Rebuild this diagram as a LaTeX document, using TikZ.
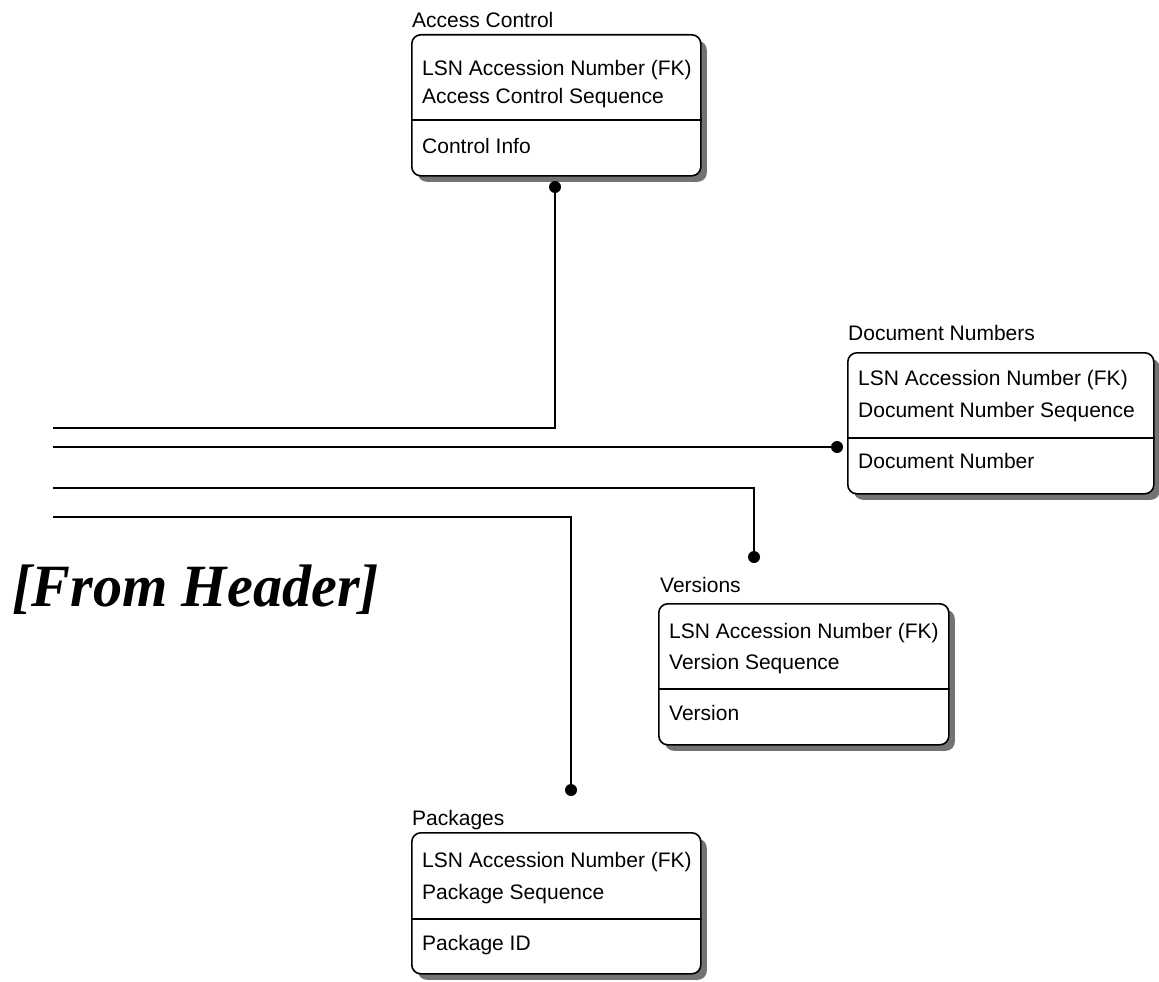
\documentclass[tikz,border=0pt]{standalone}
\usepackage{fontspec}
\newfontfamily\erfont{Liberation Sans}
\newfontfamily\hdrfont{Liberation Serif}
\usetikzlibrary{shadows}
\begin{document}
\begin{tikzpicture}[x=1pt,y=-1pt,
  entity/.style={draw, line width=1.6pt, rounded corners=9pt, fill=white, anchor=north west, inner sep=0pt,
    minimum height=141pt,
    drop shadow={shadow xshift=6pt, shadow yshift=-6pt, fill=black!55, opacity=1}},
  etxt/.style={anchor=base west, inner sep=0pt, font=\erfont\fontsize{21}{24}\selectfont},
  divider/.style={line width=1.5pt},
  conn/.style={line width=2pt},
  fkdot/.style={circle, fill=black, inner sep=0pt, minimum size=12pt}]
\useasboundingbox (0,0) rectangle (1159,982);

% Access Control
\node[etxt] (actitle) at (412,28) {Access Control};
\node[entity, minimum width=289pt] (ac) at (411,34) {};
\draw[divider] ([yshift=-86pt]ac.north west) -- ([yshift=-86pt]ac.north east);
\node[etxt] (ac1) at ([xshift=11pt,yshift=-42pt]ac.north west) {LSN Accession Number (FK)};
\node[etxt] (ac2) at ([xshift=11pt,yshift=-69pt]ac.north west) {Access Control Sequence};
\node[etxt] (ac3) at ([xshift=11pt,yshift=-119pt]ac.north west) {Control Info};

% Document Numbers
\node[etxt] (dntitle) at (848,340) {Document Numbers};
\node[entity, minimum width=306pt] (dn) at (847,352) {};
\draw[divider] ([yshift=-86pt]dn.north west) -- ([yshift=-86pt]dn.north east);
\node[etxt] (dn1) at ([xshift=11pt,yshift=-33pt]dn.north west) {LSN Accession Number (FK)};
\node[etxt] (dn2) at ([xshift=11pt,yshift=-65pt]dn.north west) {Document Number Sequence};
\node[etxt] (dn3) at ([xshift=11pt,yshift=-116pt]dn.north west) {Document Number};

% Versions
\node[etxt] (vtitle) at (660,592) {Versions};
\node[entity, minimum width=290pt] (ver) at (658,603) {};
\draw[divider] ([yshift=-86pt]ver.north west) -- ([yshift=-86pt]ver.north east);
\node[etxt] (v1) at ([xshift=11pt,yshift=-35pt]ver.north west) {LSN Accession Number (FK)};
\node[etxt] (v2) at ([xshift=11pt,yshift=-66pt]ver.north west) {Version Sequence};
\node[etxt] (v3) at ([xshift=11pt,yshift=-117pt]ver.north west) {Version};

% Packages
\node[etxt] (ptitle) at (412,825) {Packages};
\node[entity, minimum width=289pt] (pkg) at (411,832) {};
\draw[divider] ([yshift=-87pt]pkg.north west) -- ([yshift=-87pt]pkg.north east);
\node[etxt] (p1) at ([xshift=11pt,yshift=-35pt]pkg.north west) {LSN Accession Number (FK)};
\node[etxt] (p2) at ([xshift=11pt,yshift=-67pt]pkg.north west) {Package Sequence};
\node[etxt] (p3) at ([xshift=11pt,yshift=-118pt]pkg.north west) {Package ID};

% Relationship dots
\node[fkdot] (acd) at (555,187) {};
\node[fkdot] (dnd) at (837,447) {};
\node[fkdot] (vd) at (754,557) {};
\node[fkdot] (pd) at (571,790) {};

% Connector start points
\coordinate (l1) at (53,428);
\coordinate (l2) at (53,447);
\coordinate (l3) at (53,488);
\coordinate (l4) at (53,517);

\draw[conn] (l1) -| (acd.center);
\draw[conn] (l2) -- (dnd.center);
\draw[conn] (l3) -| (vd.center);
\draw[conn] (l4) -| (pd.center);

% Header label
\node[anchor=base west, inner sep=0pt, font=\hdrfont\bfseries\itshape\fontsize{60}{72}\selectfont] (hdr) at (12,606) {\scalebox{0.97}[1]{[From Header]}};
\end{tikzpicture}
\end{document}
